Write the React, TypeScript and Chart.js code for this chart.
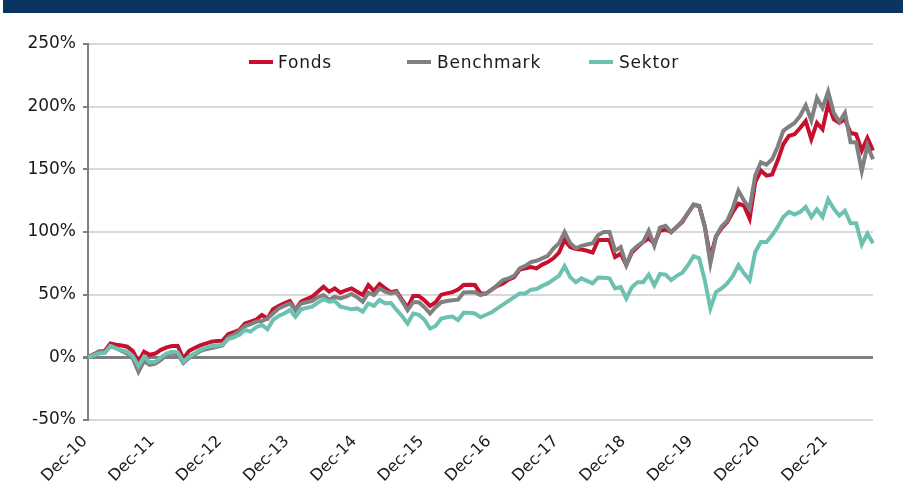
import React, { useEffect, useRef } from 'react';
import { Chart, registerables } from 'chart.js';

Chart.register(...registerables);

const MONTH_NAMES = ['Jan', 'Feb', 'Mar', 'Apr', 'May', 'Jun', 'Jul', 'Aug', 'Sep', 'Oct', 'Nov', 'Dec'];
const POINT_COUNT = 141; // monthly, Dec-10 .. Aug-22
const categories: string[] = [];
for (let k = 0; k < POINT_COUNT; k++) {
  const m = (11 + k) % 12;
  const y = 2010 + Math.floor((11 + k) / 12);
  categories.push(`${MONTH_NAMES[m]}-${String(y % 100).padStart(2, '0')}`);
}
const TICK_EVERY = 12;

const seriesNames = ['Fonds', 'Benchmark', 'Sektor'];
const seriesColors = ['#c8102e', '#808080', '#6cc1b1'];

const fonds = [
  0, 2.5, 4.5, 5, 11, 10, 9.5, 8.5, 5, -3.5, 4.5, 2, 3, 6, 8, 9, 9, -1, 5, 7.5, 9.5, 11, 12.5, 13, 13.3,
  18.5, 20, 22, 27, 28.4, 30, 33.8, 31, 38.3, 41, 43, 45, 38, 44.4, 46.5, 48.4, 52.4, 56.4, 52.4, 55,
  51.6, 53.5, 55, 52.4, 49.7, 57.7, 53, 58.5, 55, 52, 53, 46, 39.6, 49, 49, 45.5, 41, 44, 50, 51,
  52, 54, 57.7, 58, 57.7, 51,
  51, 54, 57, 59, 62, 64, 70, 71, 72, 71, 74, 76, 79, 83.5, 93.6, 88, 86.5, 86, 85, 83.6,
  93.6, 93.6, 93.6, 80, 82.7, 73.6, 83.6, 88, 92, 95, 90.7, 101, 102, 100,
  104, 108, 115, 121.6, 120.8, 104.5, 79.5, 96.5, 103, 108, 116, 122.6, 121, 110.7, 139.7, 149, 145, 145.8, 157, 170,
  176.7, 178, 183, 188.6, 174, 187, 182, 202, 190, 187, 190, 179, 178, 165, 175, 165,
];

const benchmark = [
  0, 2, 5, 4, 9, 7.5, 5, 3, -1, -11.5, -3, -6, -5, -2, 2, 3, 2.5, -4.5, -0.5, 2, 5, 6.5, 7.5, 8.5, 9.5,
  16, 18, 21, 25, 26.5, 28.5, 29, 31, 35, 39, 41, 43, 38, 43, 44, 45, 48, 49.7, 45.8, 48.4,
  47, 48.5, 50.5, 48, 44.4, 51.6, 49.7, 55, 52.4, 51, 52, 45, 37.7, 44, 44, 40, 35, 40, 44, 45,
  45.6, 46, 51.8, 52,
  52, 49.7, 51, 54, 57.7, 61.7, 63, 65, 71, 73, 76, 77, 79, 81, 86.8, 91, 100, 91, 87, 89,
  90, 91, 97.6, 100, 100, 85, 88, 73.6, 85, 89, 92, 101, 89, 103.5, 105, 99.7,
  104, 109, 115, 122, 120.8, 104.5, 75, 96.5, 104.5, 109, 119, 133, 125, 118.6, 145, 155.6, 153.7, 158, 168, 180.7,
  184, 187, 192.6, 201, 189, 207, 199, 212, 195, 188, 195, 171.6, 171.6, 148.7, 169, 158,
];

const sektor = [
  0, 1.5, 3, 3.5, 9, 7, 5.5, 4.5, 1, -7, 0.5, -4, -3.5, 0, 3, 4.5, 4, -3.5, 0.5, 3, 6, 8, 9, 9.5, 10,
  14.5, 16, 18, 21.8, 20.5, 24, 25.8, 22.3, 29.8, 33, 35, 37.8, 32.4, 38.3, 39.5, 40.5, 43.7, 46.4, 44.4, 45,
  40.5, 39.5, 38.3, 39, 36.5, 43, 41, 45.8, 43, 43.5, 38, 33, 27, 35, 34, 30, 23, 25, 31, 32,
  32.5, 29.7, 35.6, 35.5,
  35, 32, 34, 36, 39, 42, 45, 48, 51, 51, 54, 54.5, 57, 59, 62, 65, 72.8, 64, 60, 63,
  61, 59, 63.7, 63.5, 63, 55, 56, 47, 56, 60, 60, 66, 57.5, 66.5, 66, 61.6,
  65, 67.5, 73.5, 80.7, 79, 61.6, 39, 52, 55, 59, 65, 73.5, 67, 61.6, 84, 92, 92, 97.4, 104, 112,
  116, 114, 116, 120, 112, 118, 112, 126, 118.6, 113, 117, 107, 107, 90, 98.7, 91,
];

const yMin = -50;
const yMax = 250;
const yStep = 50;

const FONT = "'DejaVu Sans', sans-serif";

export default function App() {
  const canvasRef = useRef<HTMLCanvasElement | null>(null);

  useEffect(() => {
    if (!canvasRef.current) return;
    const allSeries = [fonds, benchmark, sektor];
    const chart = new Chart(canvasRef.current, {
      type: 'line',
      data: {
        labels: categories,
        datasets: allSeries.map((d, i) => ({
          label: seriesNames[i],
          data: d,
          borderColor: seriesColors[i],
          backgroundColor: seriesColors[i],
          borderWidth: 4,
          pointRadius: 0,
          tension: 0,
          fill: false,
          order: 3 - i,
        })),
      },
      options: {
        responsive: false,
        animation: false,
        layout: { padding: { left: 0, right: 30, top: 44, bottom: 0 } },
        plugins: {
          legend: { display: false },
          tooltip: { enabled: false },
        },
        scales: {
          x: {
            type: 'category',
            grid: { display: false, drawTicks: false },
            border: { display: false },
            ticks: {
              autoSkip: false,
              maxRotation: 45,
              minRotation: 45,
              padding: 12,
              labelOffset: -3,
              color: '#1a1a1a',
              font: { family: FONT, size: 16 },
              callback: (_v: any, idx: number) => (idx % TICK_EVERY === 0 ? categories[idx] : ''),
            },
            afterFit: (scale: any) => {
              scale.height = 68;
            },
          },
          y: {
            min: yMin,
            max: yMax,
            grid: {
              color: (ctx: any) => (ctx.tick && ctx.tick.value === 0 ? '#7f7f7f' : '#d9d9d9'),
              lineWidth: (ctx: any) => (ctx.tick && ctx.tick.value === 0 ? 3 : 2),
              tickColor: '#7f7f7f',
              tickLength: 5,
            },
            border: { display: true, color: '#7f7f7f', width: 2 },
            ticks: {
              stepSize: yStep,
              padding: 7,
              color: '#1a1a1a',
              font: { family: FONT, size: 17 },
              callback: (v: any) => `${v}%`,
            },
            afterFit: (scale: any) => {
              scale.width = 88;
            },
          },
        },
      },
    });
    return () => chart.destroy();
  }, []);

  const legendItems = [
    { lineLeft: 249, textLeft: 278 },
    { lineLeft: 407, textLeft: 437 },
    { lineLeft: 589, textLeft: 619 },
  ];

  return (
    <div style={{ position: 'absolute', left: 0, top: 0, width: 903, height: 488, background: '#fff', overflow: 'hidden' }}>
      <div style={{ position: 'absolute', left: 3, top: 0, width: 900, height: 13, background: '#0b3561' }} />
      <canvas ref={canvasRef} width={903} height={488} style={{ position: 'absolute', left: 0, top: 0 }} />
      {seriesNames.map((name, i) => (
        <React.Fragment key={name}>
          <div
            style={{
              position: 'absolute',
              left: legendItems[i].lineLeft,
              top: 60,
              width: 24,
              height: 4,
              background: seriesColors[i],
            }}
          />
          <div
            style={{
              position: 'absolute',
              left: legendItems[i].textLeft,
              top: 51,
              height: 22,
              lineHeight: '22px',
              fontFamily: FONT,
              fontSize: 17,
              letterSpacing: '0.8px',
              color: '#1a1a1a',
              whiteSpace: 'nowrap',
            }}
          >
            {name}
          </div>
        </React.Fragment>
      ))}
    </div>
  );
}
